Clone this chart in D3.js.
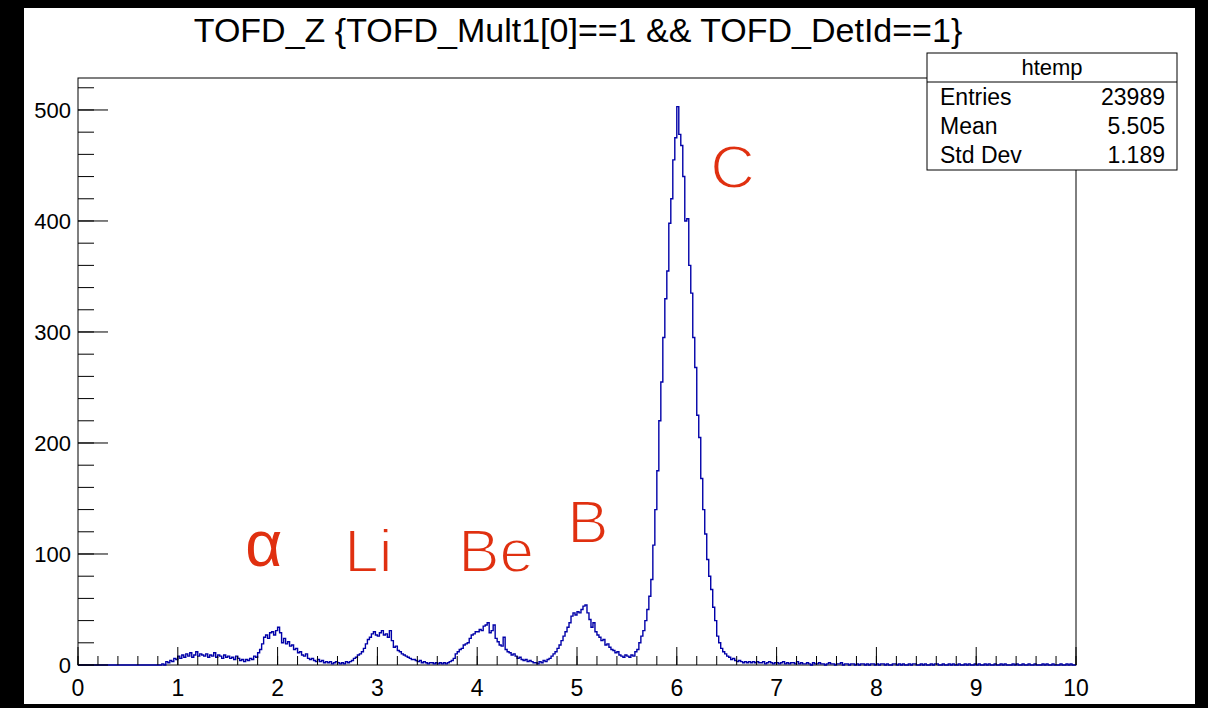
<!DOCTYPE html>
<html>
<head>
<meta charset="utf-8">
<script src="https://cdn.jsdelivr.net/npm/d3@7"></script>
<style>
  html, body { margin: 0; padding: 0; background: #000; }
  svg { display: block; }
  text { font-family: "Liberation Sans", Arial, Helvetica, sans-serif; }
</style>
</head>
<body>
<svg id="chart" width="1208" height="708"></svg>
<script>
// Histogram: TOFD_Z, 500 bins of width 0.02 over [0, 10]
const xMin = 0, xMax = 10, binWidth = 0.02;

// Bin contents, one array per unit of Z
const counts0 = [0,0,0,0,0,0,0,0,0,0, 0,0,0,0,0,0,0,0,0,0, 0,0,0,0,0,0,0,0,0,0, 0,0,0,0,0,0,0,0,0,0, 0,0,1,0,3,2,4,3,6,5];
const counts1 = [8,6,9,7,10,8,11,7,9,12, 8,10,9,8,10,7,9,8,11,7, 9,8,6,9,7,8,6,7,5,8, 6,4,5,3,5,4,6,5,8,7, 11,14,19,25,27,24,29,30,27,31];
const counts2 = [34,29,20,24,19,21,17,18,14,15, 11,12,9,8,10,6,5,6,4,3, 5,3,4,2,3,2,3,1,2,3, 2,1,2,1,3,2,3,4,6,7, 9,10,12,15,19,23,25,28,30,27];
const counts3 = [26,29,31,27,28,25,31,22,16,17, 13,12,10,9,8,7,6,5,5,4, 3,4,2,3,2,1,2,2,1,2, 1,2,1,2,1,2,3,4,6,10, 12,14,15,18,19,20,24,27,28,30];
const counts4 = [30,32,31,35,36,38,29,31,36,24, 21,18,17,25,14,12,11,9,10,8, 6,7,5,4,5,3,4,3,2,2, 1,3,2,4,3,5,6,8,10,12, 15,18,22,26,30,34,38,44,47,45];
const counts5 = [48,47,50,53,54,47,41,34,38,30, 27,25,22,23,18,19,16,14,13,11, 12,9,8,7,9,8,7,9,8,12, 14,20,26,31,40,50,62,77,108,140, 175,220,255,295,330,355,398,420,455,475];
const counts6 = [503,478,468,440,400,402,360,335,295,268, 225,205,168,140,118,95,80,68,52,40, 26,20,15,12,10,8,7,5,6,4, 3,4,3,2,3,2,3,2,3,2, 3,2,2,3,1,2,3,2,1,2];
const counts7 = [2,1,2,3,1,2,1,2,2,1, 3,1,2,1,1,2,1,0,2,1, 1,2,1,1,0,1,2,1,1,0, 1,1,2,0,1,1,0,1,1,0, 1,0,1,1,0,1,0,1,1,0];
const counts8 = [1,0,1,1,0,1,0,0,1,1, 0,1,0,1,0,0,1,0,1,1, 0,0,1,0,1,0,0,1,0,1, 1,0,0,1,0,0,1,0,1,0, 0,1,0,0,1,0,1,0,0,1];
const counts9 = [0,1,0,0,1,0,1,0,0,1, 0,0,1,0,1,0,0,0,1,0, 1,0,0,1,0,0,1,0,0,1, 0,0,0,1,0,1,0,0,1,0, 0,0,1,0,0,1,0,1,0,0];

const xTicks = [0,1,2,3,4,5,6,7,8,9,10];
const yTicks = [0,100,200,300,400,500];

const titleText = "TOFD_Z {TOFD_Mult1[0]==1 && TOFD_DetId==1}";
const statsName = "htemp";
const statsRows = [["Entries", "23989"], ["Mean", "5.505"], ["Std Dev", "1.189"]];

// Peak annotations: label, Z position, count level of the baseline
const peakLabels = [
  { text: "α",  z: 1.86, level: 89 },
  { text: "Li", z: 2.91, level: 84 },
  { text: "Be", z: 4.19, level: 84 },
  { text: "B",  z: 5.11, level: 110 },
  { text: "C",  z: 6.56, level: 430 }
];

const counts = [].concat(counts0, counts1, counts2, counts3, counts4,
                         counts5, counts6, counts7, counts8, counts9);

const svg = d3.select("#chart");

// canvas
svg.append("rect").attr("x", 24).attr("y", 8).attr("width", 1171).attr("height", 696).attr("fill", "#fff");

const frame = { left: 78, right: 1076, top: 78, bottom: 665 };
const x = d3.scaleLinear().domain([xMin, xMax]).range([frame.left, frame.right]);
const y = d3.scaleLinear().domain([0, 528.8]).range([frame.bottom, frame.top]);

// histogram outline as steps
const pts = counts.map((c, i) => [xMin + i * binWidth, c]);
pts.push([xMax, counts[counts.length - 1]]);
const line = d3.line().x(d => x(d[0])).y(d => y(d[1])).curve(d3.curveStepAfter);

// frame box
svg.append("rect")
  .attr("x", frame.left).attr("y", frame.top)
  .attr("width", frame.right - frame.left).attr("height", frame.bottom - frame.top)
  .attr("fill", "none").attr("stroke", "#000").attr("stroke-width", 1);

svg.append("path")
  .datum([[xMin, 0]].concat(pts, [[xMax, 0]]))
  .attr("d", line)
  .attr("fill", "none")
  .attr("stroke", "#0000a8")
  .attr("stroke-width", 1.4)
  .attr("stroke-linejoin", "miter");

// x axis ticks (inward) and labels
const xMinor = d3.range(0, 10.0001, 0.2);
const gx = svg.append("g");
gx.selectAll("line.minor").data(xMinor).join("line")
  .attr("x1", d => x(d)).attr("x2", d => x(d))
  .attr("y1", frame.bottom).attr("y2", frame.bottom - 9)
  .attr("stroke", "#000").attr("stroke-width", 1);
gx.selectAll("line.major").data(xTicks).join("line")
  .attr("x1", d => x(d)).attr("x2", d => x(d))
  .attr("y1", frame.bottom).attr("y2", frame.bottom - 18)
  .attr("stroke", "#000").attr("stroke-width", 1);
gx.selectAll("text").data(xTicks).join("text")
  .attr("x", d => x(d)).attr("y", 696)
  .attr("text-anchor", "middle")
  .attr("font-size", 23)
  .text(d => d);

// y axis ticks (inward) and labels
const yMinor = d3.range(0, 521, 20);
const gy = svg.append("g");
gy.selectAll("line.minor").data(yMinor).join("line")
  .attr("x1", frame.left).attr("x2", frame.left + 16)
  .attr("y1", d => y(d)).attr("y2", d => y(d))
  .attr("stroke", "#000").attr("stroke-width", 1);
gy.selectAll("line.major").data(yTicks).join("line")
  .attr("x1", frame.left).attr("x2", frame.left + 30)
  .attr("y1", d => y(d)).attr("y2", d => y(d))
  .attr("stroke", "#000").attr("stroke-width", 1);
gy.selectAll("text").data(yTicks).join("text")
  .attr("x", 71).attr("y", d => y(d) + 8)
  .attr("text-anchor", "end")
  .attr("font-size", 22)
  .text(d => d);

// title
svg.append("text")
  .attr("x", 578).attr("y", 42)
  .attr("text-anchor", "middle")
  .attr("font-size", 34)
  .text(titleText);

// statistics box
const sb = { x: 927, y: 53, w: 250, h: 117 };
const gs = svg.append("g");
gs.append("rect").attr("x", sb.x).attr("y", sb.y).attr("width", sb.w).attr("height", sb.h)
  .attr("fill", "#fff").attr("stroke", "#000").attr("stroke-width", 1);
gs.append("line").attr("x1", sb.x).attr("x2", sb.x + sb.w).attr("y1", 82).attr("y2", 82)
  .attr("stroke", "#000").attr("stroke-width", 1);
gs.append("text").attr("x", sb.x + sb.w / 2).attr("y", 75)
  .attr("text-anchor", "middle").attr("font-size", 22).text(statsName);
statsRows.forEach((r, i) => {
  const ty = 105 + i * 29;
  gs.append("text").attr("x", 940).attr("y", ty).attr("font-size", 23).text(r[0]);
  gs.append("text").attr("x", 1165).attr("y", ty).attr("text-anchor", "end").attr("font-size", 23).text(r[1]);
});

// peak labels (thin strokes for the element symbols via a white outline)
svg.append("g").selectAll("text").data(peakLabels).join("text")
  .attr("x", d => x(d.z)).attr("y", d => y(d.level))
  .attr("text-anchor", "middle")
  .attr("fill", "#e03010")
  .attr("font-family", "Lato, 'Open Sans', sans-serif")
  .attr("font-weight", 400)
  .attr("font-size", d => d.text === "α" ? 64 : 62)
  .attr("stroke", d => d.text === "α" ? "none" : "#fff")
  .attr("stroke-width", 1.8)
  .attr("paint-order", "fill")
  .text(d => d.text);
</script>
</body>
</html>
